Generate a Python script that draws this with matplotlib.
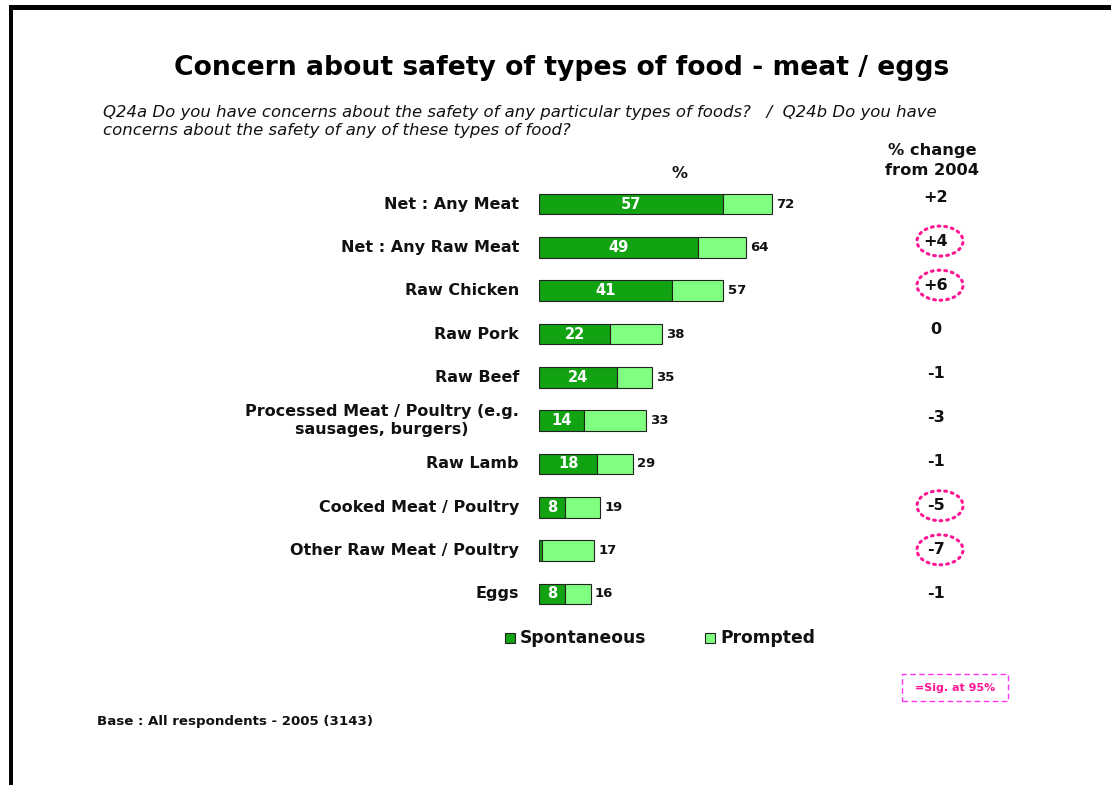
import matplotlib
matplotlib.use("Agg")
import matplotlib.pyplot as plt
from matplotlib.patches import Ellipse, Rectangle

plt.rcParams['font.family'] = ['DejaVu Sans']

categories = [
    "Net : Any Meat",
    "Net : Any Raw Meat",
    "Raw Chicken",
    "Raw Pork",
    "Raw Beef",
    "Processed Meat / Poultry (e.g.\nsausages, burgers)",
    "Raw Lamb",
    "Cooked Meat / Poultry",
    "Other Raw Meat / Poultry",
    "Eggs",
]
spontaneous = [57, 49, 41, 22, 24, 14, 18, 8, 1, 8]
total = [72, 64, 57, 38, 35, 33, 29, 19, 17, 16]
spont_labels = ["57", "49", "41", "22", "24", "14", "18", "8", "", "8"]
change = ["+2", "+4", "+6", "0", "-1", "-3", "-1", "-5", "-7", "-1"]
significant = [False, True, True, False, False, False, False, True, True, False]

W, H = 1111, 785
fig = plt.figure(figsize=(W / 100, H / 100), dpi=100)
fig.patch.set_facecolor("white")


def fx(px):
    return px / W


def fy(py):
    return 1 - py / H


# frame lines along top and left edge
fig.add_artist(Rectangle((fx(9), fy(10)), fx(W), 5 / H, transform=fig.transFigure,
                         facecolor="black", edgecolor="none"))
fig.add_artist(Rectangle((fx(9), 0), 4 / W, fy(5), transform=fig.transFigure,
                         facecolor="black", edgecolor="none"))

# bar axes
n = len(categories)
row_h = 43.33
top_px = 204 - row_h / 2
bot_px = 594 + row_h / 2
px_per_unit = 3.236
ax = fig.add_axes([fx(539), fy(bot_px), px_per_unit * 100 / W, (bot_px - top_px) / H])
ax.set_xlim(0, 100)
ax.set_ylim(n - 0.5, -0.5)
ax.axis("off")

dark = "#12A312"
light = "#80FF80"
ys = list(range(n))
prompted = [t - s for t, s in zip(total, spontaneous)]
bh = 0.47
ax.barh(ys, spontaneous, height=bh, color=dark, edgecolor="#222222", linewidth=0.8)
ax.barh(ys, prompted, left=spontaneous, height=bh, color=light, edgecolor="#222222", linewidth=0.8)

for y, s, lab, t in zip(ys, spontaneous, spont_labels, total):
    if lab:
        ax.text(s / 2, y, lab, ha="center", va="center", color="white",
                fontsize=10.5, fontweight="bold")
    ax.text(t + 1.3, y, str(t), ha="left", va="center", color="#111111",
            fontsize=9.5, fontweight="bold")

# category labels
for y, c in zip(ys, categories):
    ax.text(-6.2, y, c, ha="right", va="center", fontsize=11.5, fontweight="bold",
            color="#111111", linespacing=1.3,
            multialignment="center" if "\n" in c else "right")

# change column
change_top, change_step = 197, 44.1
for i, (ch, sig) in enumerate(zip(change, significant)):
    ypx = change_top + i * change_step
    fig.text(fx(936), fy(ypx), ch, ha="center", va="center", fontsize=11.5,
             fontweight="bold", color="#111111")
    if sig:
        fig.add_artist(Ellipse((fx(940), fy(ypx)), 46 / W, 30 / H,
                               transform=fig.transFigure, fill=False,
                               edgecolor="#FF1493", linewidth=2.2,
                               linestyle=(0, (0.6, 1.6)), capstyle="round"))

fig.text(fx(932), fy(160.5), "% change\nfrom 2004", ha="center", va="center",
         fontsize=11.7, fontweight="bold", color="#111111", linespacing=1.35)
fig.text(fx(679), fy(173), "%", ha="center", va="center", fontsize=11.5,
         fontweight="bold", color="#111111")

# titles
fig.text(fx(562), fy(68), "Concern about safety of types of food - meat / eggs",
         ha="center", va="center", fontsize=19.2, fontweight="bold", color="black")
fig.text(fx(103), fy(121.5),
         "Q24a Do you have concerns about the safety of any particular types of foods?   /  Q24b Do you have\n"
         "concerns about the safety of any of these types of food?",
         ha="left", va="center", fontsize=11.85, style="italic", color="#111111",
         linespacing=1.3)

# legend
for xsq, col, lab in [(505, dark, "Spontaneous"), (705, light, "Prompted")]:
    fig.add_artist(Rectangle((fx(xsq), fy(643)), 10 / W, 10 / H, transform=fig.transFigure,
                             facecolor=col, edgecolor="#222222", linewidth=0.8))
    fig.text(fx(xsq + 15), fy(638), lab, ha="left", va="center", fontsize=12.3,
             fontweight="bold", color="#111111")

# significance key
fig.add_artist(Rectangle((fx(902), fy(701)), 106 / W, 27 / H, transform=fig.transFigure,
                         fill=False, edgecolor="#FF33FF", linewidth=1.0,
                         linestyle=(0, (4, 2.5))))
fig.text(fx(955), fy(688), "=Sig. at 95%", ha="center", va="center", fontsize=8,
         fontweight="bold", color="#FF1493")

fig.text(fx(97), fy(722), "Base : All respondents - 2005 (3143)", ha="left", va="center",
         fontsize=9.6, fontweight="bold", color="#111111")

fig.savefig("out.png", dpi=100, facecolor="white")
